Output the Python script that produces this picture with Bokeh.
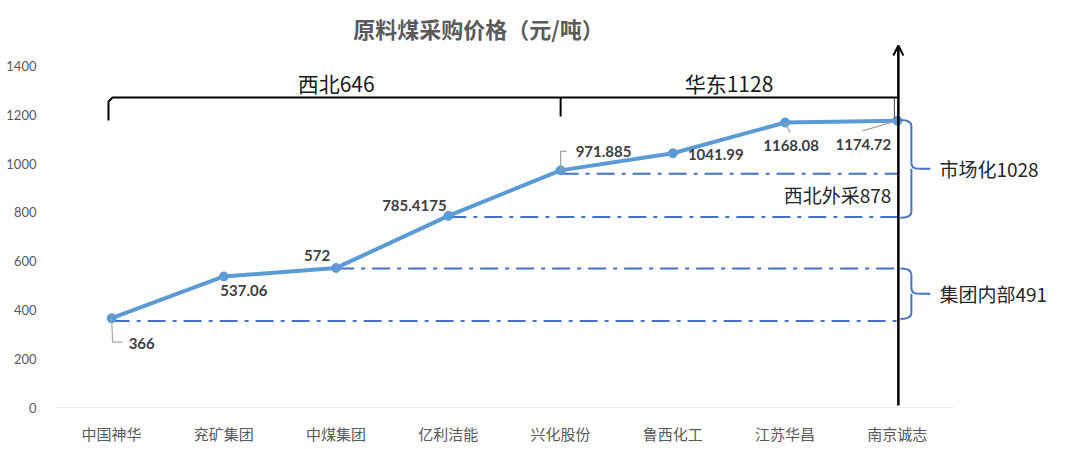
from bokeh.plotting import figure
from bokeh.models import Range1d, FixedTicker, Arrow, OpenHead
from bokeh.core.properties import value
from bokeh.embed import file_html
from bokeh.resources import INLINE

# ---------------- data ----------------
categories = ["中国神华", "兖矿集团", "中煤集团", "亿利洁能", "兴化股份", "鲁西化工", "江苏华昌", "南京诚志"]
prices = [366, 537.06, 572, 785.4175, 971.885, 1041.99, 1168.08, 1174.72]
y_ticks = [0, 200, 400, 600, 800, 1000, 1200, 1400]
title_text = "原料煤采购价格（元/吨）"
region_labels = ["西北646", "华东1128"]
group_labels = ["市场化1028", "集团内部491"]
sub_label = "西北外采878"
ref_start = [0, 2, 3, 4]          # category where each reference line starts
ref_levels = [354, 570, 781, 958]  # reference line levels
brace_ranges = [(778, 1178), (363, 570)]

# ---------------- geometry helpers (page px -> data) ----------------
PXU = 112.25   # px per category
PYU = 0.244    # px per value unit
Y0 = 407       # page y of value 0
X0 = 55        # page x of x=-0.5


def dx(px):
    return px / PXU


def dy(px):
    return px / PYU


def yp(page_y):
    return (Y0 - page_y) / PYU


def xp(page_x):
    return -0.5 + (page_x - X0) / PXU


W, H = 1080, 449
p = figure(width=W, height=H, output_backend="svg", toolbar_location=None,
           x_range=Range1d(-0.5, -0.5 + (W - X0) / PXU),
           y_range=Range1d(0, Y0 / PYU),
           min_border_left=X0, min_border_right=0, min_border_top=0, min_border_bottom=H - Y0)
p.outline_line_color = None
p.xgrid.visible = False
p.ygrid.visible = False
p.background_fill_color = "white"
p.border_fill_color = "white"

# axes
xa = p.xaxis[0]
xa.ticker = FixedTicker(ticks=list(range(len(categories))))
xa.major_label_overrides = {i: c for i, c in enumerate(categories)}
xa.axis_line_color = None
xa.major_tick_line_color = None
xa.minor_tick_line_color = None
xa.major_label_text_font = "Noto Sans CJK SC"
xa.major_label_text_font_size = "15px"
xa.major_label_text_color = "#595959"
xa.major_label_standoff = 9

ya = p.yaxis[0]
ya.ticker = FixedTicker(ticks=y_ticks)
ya.axis_line_color = None
ya.major_tick_line_color = None
ya.minor_tick_line_color = None
ya.major_label_text_font = "Lato"
ya.major_label_text_font_size = "13px"
ya.major_label_text_color = "#595959"
ya.major_label_standoff = 13

xs = list(range(len(categories)))
last = len(categories) - 1

# baseline
p.segment(x0=[-0.5], y0=[0], x1=[last + 0.5], y1=[0], line_color="#D9D9D9", line_width=1.2)

# reference dash-dot lines
p.segment(x0=ref_start, y0=ref_levels, x1=[last] * len(ref_levels), y1=ref_levels,
          line_color="#4472C4", line_width=2, line_dash="18 7 4 7")

# main line
p.line(xs, prices, line_color="#5B9BD5", line_width=4)
p.scatter(xs, prices, size=9, fill_color="#5B9BD5", line_color="#5B9BD5")

# data labels: offsets (px right, px down), align
lab_off = [(17, 25, "left"), (20, 14, "center"), (-19, -12, "center"), (-34, -10, "center"),
           (15, -19, "left"), (15, 1, "left"), (6, 23, "center"), (-34, 24, "center")]
for i, v in enumerate(prices):
    ox, oy, al = lab_off[i]
    p.text(x=[i + dx(ox)], y=[v - dy(oy)], text=[str(v)], text_align=al, text_baseline="middle",
           text_font=value("Lato"), text_font_style="bold", text_font_size="15px", text_color="#404040")

# leader lines
lc = "#A6A6A6"
p.line([0, 0 + dx(1), 0 + dx(11)], [prices[0], prices[0] - dy(24), prices[0] - dy(24)], line_color=lc, line_width=1.2)
p.line([4, 4, 4 + dx(6)], [prices[4], prices[4] + dy(19), prices[4] + dy(19)], line_color=lc, line_width=1.2)
p.line([6, 6 + dx(5)], [prices[6], prices[6] - dy(10)], line_color=lc, line_width=1.2)
p.line([7 - dx(4), 7 - dx(35)], [prices[7] - dy(1), prices[7] - dy(10)], line_color=lc, line_width=1.2)

# top region bracket
yb = yp(97)
p.line([xp(108), xp(108), xp(112), last], [yp(120), yb - dy(4), yb, yb], line_color="black", line_width=2)
p.segment(x0=[4], y0=[yb], x1=[4], y1=[yp(116)], line_color="black", line_width=2)
p.segment(x0=[last - dx(3)], y0=[yb], x1=[last - dx(3)], y1=[yp(118)], line_color="#404040", line_width=1)
p.text(x=[2, (4 + last) / 2], y=[yp(82), yp(82)], text=region_labels, text_align="center",
       text_baseline="middle", text_font=value("Noto Sans CJK SC"), text_font_size="21px", text_color="#1a1a1a")

# vertical arrow
p.add_layout(Arrow(end=OpenHead(size=10, line_width=2, line_color="black"),
                   x_start=last + dx(1), y_start=yp(405), x_end=last + dx(1), y_end=yp(45),
                   line_color="black", line_width=2.5))

# braces
bc = "#4472C4"
xa0, xm, xt, xe = last + dx(3), last + dx(14), last + dx(21), last + dx(33)
for (lo, hi), lab in zip(brace_ranges, group_labels):
    mid = (lo + hi) / 2
    r = dy(6)
    p.quadratic(x0=[xa0, xm, xm, xm], y0=[hi, mid + r, mid, lo + r],
                x1=[xm, xt, xm, xa0], y1=[hi - r, mid, mid - r, lo],
                cx=[xm, xm, xm, xm], cy=[hi, mid, mid, lo], line_color=bc, line_width=2)
    p.segment(x0=[xm, xm, xt], y0=[hi - r, mid - r, mid], x1=[xm, xm, xe], y1=[mid + r, lo + r, mid],
              line_color=bc, line_width=2)
    p.text(x=[last + dx(42)], y=[mid], text=[lab], text_align="left", text_baseline="middle",
           text_font=value("Noto Sans CJK SC"), text_font_size="19px", text_color="#262626")

p.text(x=[last - dx(6)], y=[yp(194)], text=[sub_label], text_align="right", text_baseline="middle",
       text_font=value("Noto Sans CJK SC"), text_font_size="19px", text_color="#262626")

# title
p.text(x=[xp(478)], y=[yp(27)], text=[title_text], text_align="center", text_baseline="middle",
       text_font=value("Noto Sans CJK SC"), text_font_style="bold", text_font_size="22px", text_color="#5a5a5a")

open("out.html", "w").write(file_html(p, INLINE))
